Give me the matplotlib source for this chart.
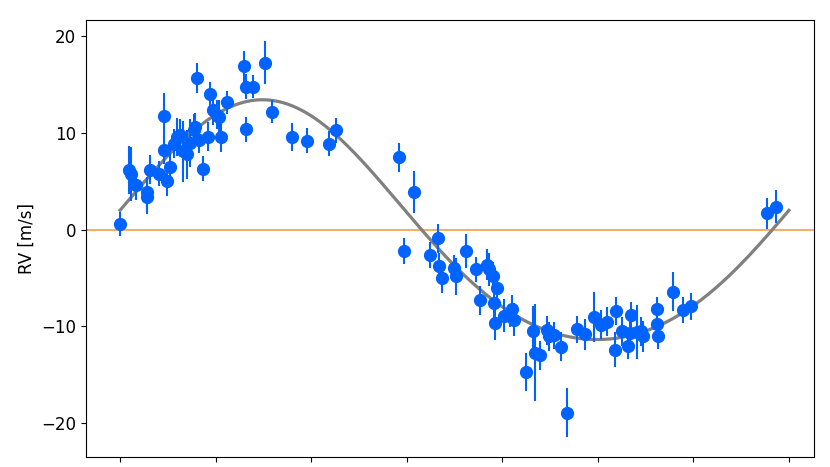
import numpy as np
import matplotlib
matplotlib.use("Agg")
import matplotlib.pyplot as plt

# Observations: time (x, arbitrary units), radial velocity and its uncertainty
t = [0.00, 0.09, 0.12, 0.17, 0.28, 0.28, 0.31, 0.41, 0.46, 0.46,
     0.49, 0.52, 0.56, 0.60, 0.63, 0.66, 0.70, 0.73, 0.77, 0.785,
     0.81, 0.83, 0.865, 0.92, 0.94, 0.976, 1.01, 1.04, 1.06, 1.12,
     1.30, 1.32, 1.39, 1.32, 1.52, 1.59, 1.80, 1.96, 2.19, 2.26,
     2.92, 3.08, 2.97, 3.24, 3.33, 3.34, 3.37, 3.49, 3.52, 3.62,
     3.73, 3.77, 3.84, 3.86, 3.90, 3.94, 3.91, 3.92, 4.02, 4.10,
     4.12, 4.08, 4.25, 4.32, 4.34, 4.40, 4.47, 4.49, 4.54, 4.61,
     4.68, 4.78, 4.87, 4.96, 5.03, 5.10, 5.19, 5.18, 5.25, 5.32,
     5.35, 5.34, 5.41, 5.47, 5.45, 5.62, 5.62, 5.63, 5.79, 5.89,
     5.98, 6.77, 6.86]
rv = [0.6, 6.2, 5.8, 4.6, 3.9, 3.4, 6.2, 5.8, 11.8, 8.3,
      5.0, 6.5, 8.9, 9.6, 9.8, 8.1, 7.8, 9.0, 10.3, 10.6,
      15.7, 9.3, 6.3, 9.6, 14.0, 12.4, 11.9, 11.7, 9.6, 13.2,
      16.9, 14.8, 14.8, 10.4, 17.3, 12.2, 9.6, 9.2, 8.9, 10.3,
      7.5, 3.9, -2.2, -2.6, -0.9, -3.7, -5.0, -3.9, -4.8, -2.2,
      -4.1, -7.3, -3.6, -4.1, -4.8, -6.0, -7.6, -9.6, -8.9, -8.2,
      -9.3, -8.9, -14.7, -10.5, -12.7, -13.0, -10.4, -11.0, -10.9, -12.1,
      -18.9, -10.3, -10.8, -9.0, -9.8, -9.5, -8.4, -12.4, -10.5, -12.0,
      -8.8, -10.7, -10.6, -11.0, -10.5, -8.2, -9.7, -11.0, -6.4, -8.3,
      -7.9, 1.7, 2.4]
rv_err = [1.2, 2.5, 2.8, 1.5, 1.6, 1.8, 1.5, 1.3, 2.3, 1.5,
          1.5, 1.4, 1.5, 2.0, 1.7, 3.2, 2.5, 2.5, 1.7, 1.5,
          1.5, 1.4, 1.3, 1.5, 1.3, 1.6, 1.5, 1.7, 1.6, 1.2,
          1.6, 1.3, 1.2, 1.3, 2.2, 1.2, 1.4, 1.3, 1.3, 1.3,
          1.5, 2.2, 1.3, 1.3, 1.5, 1.3, 1.5, 1.3, 1.9, 1.8,
          1.3, 1.5, 1.6, 1.7, 1.5, 1.6, 1.5, 1.8, 1.7, 1.5,
          1.7, 1.2, 2.0, 2.6, 5.0, 1.5, 1.5, 1.5, 1.4, 1.5,
          2.5, 1.4, 1.6, 2.6, 1.5, 1.5, 1.4, 1.8, 1.5, 1.4,
          1.3, 1.5, 2.8, 1.6, 1.5, 1.3, 1.3, 1.3, 2.0, 1.3,
          1.4, 1.6, 1.7]

# Best-fit orbit model parameters (harmonic representation)
period = 7.0
gamma = 0.05
k1 = 12.4
k2 = 1.0
t_max = 0.213 * 7.0

fig = plt.figure(figsize=(8.3, 4.67), dpi=100)
ax = fig.add_axes([0.1036, 0.0214, 0.8771, 0.9358])

tm = np.linspace(0.0, period, 600)
ph = 2 * np.pi * (tm - t_max) / period
model = gamma + k1 * np.cos(ph) + k2 * np.cos(2 * ph)

ax.axhline(0, color='#f5a04a', lw=1.2, zorder=1)
ax.plot(tm, model, color='#808080', lw=2.3, zorder=2)
ax.errorbar(t, rv, yerr=rv_err, fmt='o', color='#0062ff', ms=8.5,
            elinewidth=1.5, capsize=0, zorder=3)

ax.set_xlim(-0.356, 7.262)
ax.set_ylim(-23.5, 21.7)
ax.set_xticks(np.arange(0, 8, 1))
ax.set_yticks([-20, -10, 0, 10, 20])
ax.tick_params(axis='both', labelsize=12)
ax.tick_params(axis='x', labelbottom=False)
ax.set_ylabel('RV [m/s]', fontsize=12)

fig.savefig('out.png', dpi=100)
